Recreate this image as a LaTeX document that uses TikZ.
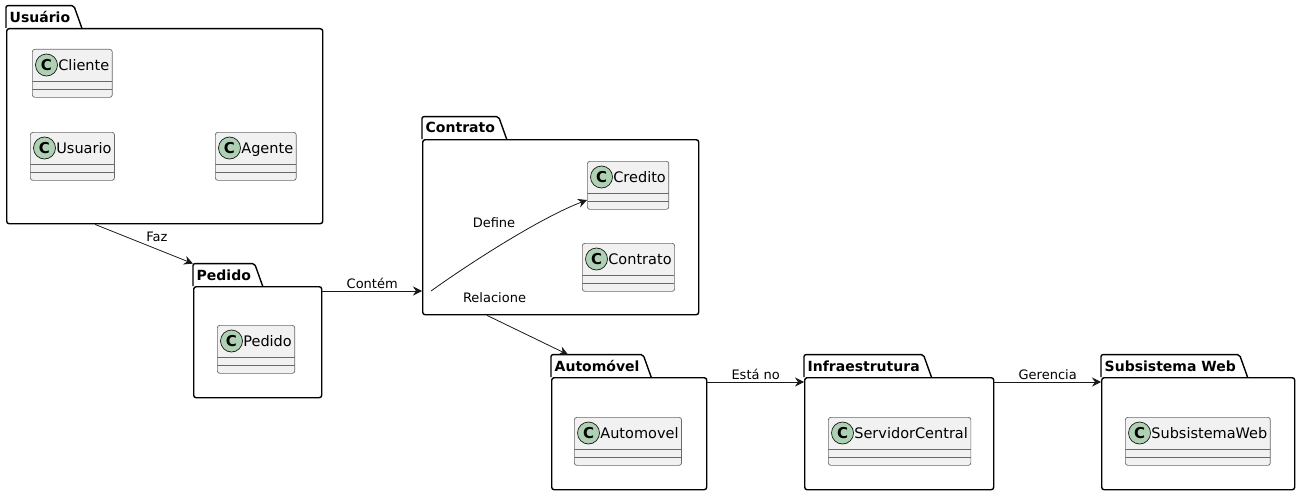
\documentclass[tikz,border=0pt]{standalone}
\usepackage{fontspec}
\setmainfont{DejaVu Sans}
\usepackage{tikz}
\usetikzlibrary{arrows.meta,positioning}
\usetikzlibrary{calc}

\definecolor{clsfill}{HTML}{F1F1F1}
\definecolor{clsline}{HTML}{181818}
\definecolor{spotgreen}{HTML}{ADD1B2}

\begin{document}
\begin{tikzpicture}[
  x=1pt, y=-1pt,
  pkg/.style={draw, line width=1.4pt, rounded corners=2.5pt, anchor=north west, inner sep=0pt},
  pkgline/.style={line width=1.4pt, rounded corners=2pt},
  tab/.style={anchor=south west, inner xsep=3.5pt, inner ysep=0pt, minimum height=22pt, font=\fontsize{14}{16}\selectfont\bfseries},
  spot/.style={circle, draw=clsline, fill=spotgreen, line width=0.7pt, inner sep=0pt, minimum size=22pt,
    anchor=center, xshift=14.5pt, yshift=-16pt, font=\fontsize{15}{17}\selectfont\bfseries},
  cls/.style={draw=clsline!65, fill=clsfill, line width=0.7pt, rounded corners=2.5pt, anchor=north west,
    inner xsep=3pt, inner ysep=0pt, text height=21pt, text depth=27pt, font=\fontsize{14.5}{17}\selectfont,
    execute at begin node={\hspace*{23pt}}, label={[spot]north west:C},
    path picture={
      \draw[clsline!65, line width=0.7pt] ([yshift=-32pt]path picture bounding box.north west) -- ([yshift=-32pt]path picture bounding box.north east);
      \draw[clsline!65, line width=0.7pt] ([yshift=-40pt]path picture bounding box.north west) -- ([yshift=-40pt]path picture bounding box.north east);
    }},
  arr/.style={-{Stealth[length=9pt, width=9pt, inset=3pt]}, draw=clsline, line width=0.8pt},
  lbl/.style={font=\fontsize{13}{15}\selectfont, inner sep=2pt}
]
  \useasboundingbox (0,0) rectangle (1300,495);

  % packages
  \node[pkg, minimum width=316pt, minimum height=195pt] (usuPkg) at (6,28) {};
  \node[tab] (usuTab) at (usuPkg.north west) {Usuário};
  \draw[pkgline] (usuTab.south west) |- (usuTab.north east) -- ($(usuTab.south east)+(8,0)$);

  \node[pkg, minimum width=128pt, minimum height=111pt] (pedPkg) at (193,286) {};
  \node[tab] (pedTab) at (pedPkg.north west) {Pedido};
  \draw[pkgline] (pedTab.south west) |- (pedTab.north east) -- ($(pedTab.south east)+(8,0)$);

  \node[pkg, minimum width=276pt, minimum height=175pt] (ctrPkg) at (422,139) {};
  \node[tab] (ctrTab) at (ctrPkg.north west) {Contrato};
  \draw[pkgline] (ctrTab.south west) |- (ctrTab.north east) -- ($(ctrTab.south east)+(8,0)$);

  \node[pkg, minimum width=155pt, minimum height=112pt] (autPkg) at (551,377) {};
  \node[tab] (autTab) at (autPkg.north west) {Automóvel};
  \draw[pkgline] (autTab.south west) |- (autTab.north east) -- ($(autTab.south east)+(8,0)$);

  \node[pkg, minimum width=189pt, minimum height=112pt] (infPkg) at (804,377) {};
  \node[tab] (infTab) at (infPkg.north west) {Infraestrutura};
  \draw[pkgline] (infTab.south west) |- (infTab.north east) -- ($(infTab.south east)+(8,0)$);

  \node[pkg, minimum width=193pt, minimum height=112pt] (webPkg) at (1101,377) {};
  \node[tab] (webTab) at (webPkg.north west) {Subsistema Web};
  \draw[pkgline] (webTab.south west) |- (webTab.north east) -- ($(webTab.south east)+(8,0)$);

  % classes
  \node[cls] (cliente) at (32,49) {Cliente};
  \node[cls] (usuario) at (30,132) {Usuario};
  \node[cls] (agente) at (215,132) {Agente};
  \node[cls] (pedido) at (217,325) {Pedido};
  \node[cls] (credito) at (587,161) {Credito};
  \node[cls] (contrato) at (582,243) {Contrato};
  \node[cls] (automovel) at (574,417) {Automovel};
  \node[cls] (servidor) at (828,417) {ServidorCentral};
  \node[cls] (subsistema) at (1125,417) {SubsistemaWeb};

  % links
  \coordinate (pedOut) at ([yshift=-5pt]pedPkg.north east);
  \coordinate (ctrIn) at (pedOut -| ctrPkg.west);
  \coordinate (ctrStart) at ([xshift=9pt]ctrIn);
  \coordinate (autOut) at ([yshift=-5pt]autPkg.north east);
  \coordinate (infOut) at ([yshift=-5pt]infPkg.north east);

  \draw[arr] ([xshift=89pt]usuPkg.south west) -- (pedTab.north west)
    node[lbl, midway, anchor=south west] {Faz};
  \draw[arr] (pedOut) -- (ctrIn) node[lbl, midway, above] {Contém};
  \draw[arr] (ctrStart) .. controls +(39,-28) and +(-47,18) .. ([yshift=-39pt]credito.north west)
    node[lbl, pos=0.5, xshift=-12pt, yshift=19pt] {Define};
  \draw[arr] ([xshift=65pt]ctrPkg.south west) -- ([xshift=17pt]autTab.north west)
    node[lbl, midway, xshift=-33pt, yshift=37pt] {Relacione};
  \draw[arr] (autOut) -- (autOut -| infPkg.west) node[lbl, midway, above] {Está no};
  \draw[arr] (infOut) -- (infOut -| webPkg.west) node[lbl, midway, above] {Gerencia};
\end{tikzpicture}
\end{document}
